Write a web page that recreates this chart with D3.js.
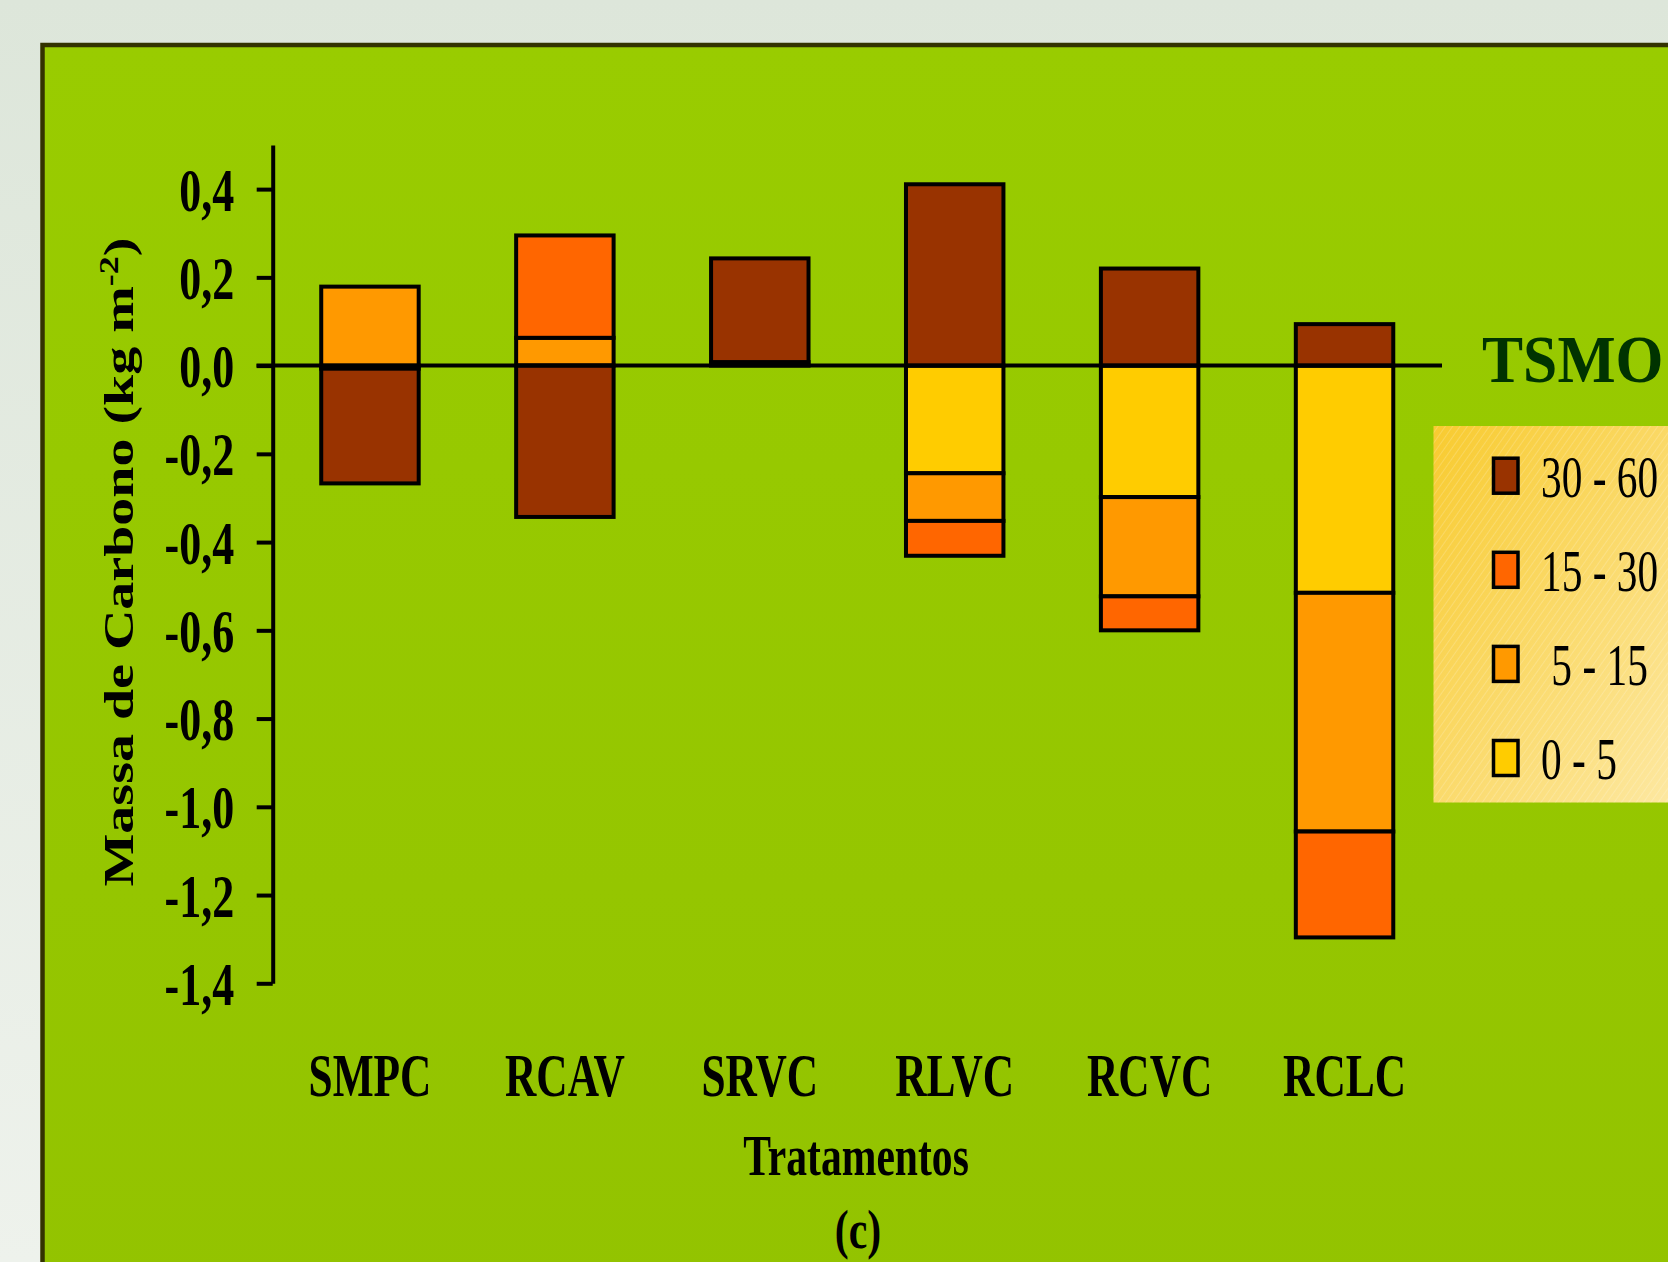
<!DOCTYPE html>
<html>
<head>
<meta charset="utf-8">
<script src="https://cdn.jsdelivr.net/npm/d3@7"></script>
<style>
  html, body { margin: 0; padding: 0; background: #dfe7dd; }
  svg { display: block; }
  text { font-family: "Liberation Serif", "Times New Roman", serif; }
</style>
</head>
<body>
<svg id="chart"></svg>
<script>
// dados (kg m-2)
const categories = ["SMPC", "RCAV", "SRVC", "RLVC", "RCVC", "RCLC"];
const layers = ["0 - 5", "5 - 15", "15 - 30", "30 - 60"];   // ordem de empilhamento a partir do zero
const v0_5   = [-0.007, 0.000, 0.008, -0.244, -0.298, -0.515];
const v5_15  = [ 0.179, 0.063, 0.000, -0.108, -0.225, -0.541];
const v15_30 = [ 0.000, 0.232, 0.000, -0.079, -0.077, -0.240];
const v30_60 = [-0.260, -0.343, 0.235, 0.411, 0.220, 0.094];
const yTicks = [-1.4, -1.2, -1.0, -0.8, -0.6, -0.4, -0.2, 0.0, 0.2, 0.4];
const legendLabels = ["30 - 60", "15 - 30", "\u00a05 - 15", "0 - 5"];
const layerColors = { "0 - 5": "#ffcc00", "5 - 15": "#ff9900", "15 - 30": "#ff6600", "30 - 60": "#993300" };

const width = 1668, height = 1262;
const sx = 0.71;  // o texto original é comprimido na horizontal

const svg = d3.select("#chart").attr("width", width).attr("height", height);
const defs = svg.append("defs");

// fundo da página
const bgGrad = defs.append("linearGradient").attr("id", "bg").attr("x1", 0).attr("y1", 0).attr("x2", 0).attr("y2", 1);
bgGrad.append("stop").attr("offset", "0%").attr("stop-color", "#dde6da");
bgGrad.append("stop").attr("offset", "100%").attr("stop-color", "#eef2ec");
svg.append("rect").attr("width", width).attr("height", height).attr("fill", "url(#bg)");

// painel verde
const panelGrad = defs.append("linearGradient").attr("id", "panel").attr("x1", 0).attr("y1", 0).attr("x2", 0).attr("y2", 1);
panelGrad.append("stop").attr("offset", "0%").attr("stop-color", "#99cc00");
panelGrad.append("stop").attr("offset", "100%").attr("stop-color", "#93c300");
svg.append("rect")
    .attr("x", 42.5).attr("y", 45).attr("width", width).attr("height", height)
    .attr("fill", "url(#panel)").attr("stroke", "#333300").attr("stroke-width", 4.5);

// escalas
const x = d3.scaleBand().domain(categories).range([272.5, 1442]).paddingInner(0.5).paddingOuter(0.25);
const y = d3.scaleLinear().domain([-1.4, 0.5]).range([983.3, 145]);

// empilhamento com valores negativos
const table = categories.map((c, i) => ({
    cat: c, "0 - 5": v0_5[i], "5 - 15": v5_15[i], "15 - 30": v15_30[i], "30 - 60": v30_60[i]
}));
const series = d3.stack().keys(layers).offset(d3.stackOffsetDiverging)(table);

const barG = svg.append("g");
series.forEach(s => {
    barG.selectAll(null)
        .data(s.filter(d => d[1] !== d[0]))
        .enter()
        .append("rect")
        .attr("x", d => x(d.data.cat))
        .attr("width", x.bandwidth())
        .attr("y", d => y(Math.max(d[0], d[1])))
        .attr("height", d => Math.abs(y(d[0]) - y(d[1])))
        .attr("fill", layerColors[s.key])
        .attr("stroke", "#000")
        .attr("stroke-width", 4);
});

// linha do zero
svg.append("line")
    .attr("x1", 256.5).attr("x2", 1442)
    .attr("y1", y(0)).attr("y2", y(0))
    .attr("stroke", "#000").attr("stroke-width", 4);

// eixo y
const yAxis = svg.append("g")
    .attr("transform", "translate(272.7,0)")
    .call(d3.axisLeft(y).tickValues(yTicks).tickSize(16).tickSizeOuter(0)
        .tickFormat(d => d3.format(".1f")(d).replace(".", ",").replace("−", "-")));
yAxis.select(".domain").attr("stroke", "#000").attr("stroke-width", 4);
yAxis.selectAll(".tick line").attr("stroke", "#000").attr("stroke-width", 4);
yAxis.selectAll(".tick text")
    .attr("font-family", "Liberation Serif")
    .attr("font-weight", "bold")
    .attr("font-size", 62)
    .attr("fill", "#000")
    .attr("x", -38.5 / sx)
    .attr("dy", "0.34em")
    .attr("transform", `scale(${sx},1)`);

// rótulos das categorias
svg.append("g").selectAll("text")
    .data(categories)
    .enter()
    .append("text")
    .attr("transform", d => `translate(${x(d) + x.bandwidth() / 2},1095.5) scale(0.70,1)`)
    .attr("text-anchor", "middle")
    .attr("font-weight", "bold")
    .attr("font-size", 62)
    .text(d => d);

// título do eixo x
svg.append("text")
    .attr("transform", "translate(856,1175) scale(0.73,1)")
    .attr("text-anchor", "middle")
    .attr("font-weight", "bold")
    .attr("font-size", 57)
    .text("Tratamentos");

svg.append("text")
    .attr("transform", "translate(858,1248) scale(0.76,1)")
    .attr("text-anchor", "middle")
    .attr("font-weight", "bold")
    .attr("font-size", 55)
    .text("(c)");

// título do eixo y
const yTitle = svg.append("text")
    .attr("transform", "translate(133,562) scale(0.75,1) rotate(-90)")
    .attr("text-anchor", "middle")
    .attr("font-weight", "bold")
    .attr("font-size", 56);
yTitle.append("tspan").text("Massa de Carbono (kg m");
yTitle.append("tspan").attr("dy", -20).attr("font-size", 36).text("-2");
yTitle.append("tspan").attr("dy", 20).text(")");

// legenda
const legGrad = defs.append("linearGradient").attr("id", "leg").attr("x1", 0).attr("y1", 0).attr("x2", 1).attr("y2", 1);
legGrad.append("stop").attr("offset", "0%").attr("stop-color", "#f8cb30");
legGrad.append("stop").attr("offset", "100%").attr("stop-color", "#fde9a6");
const hatch = defs.append("pattern").attr("id", "hatch")
    .attr("width", 6).attr("height", 6).attr("patternUnits", "userSpaceOnUse")
    .attr("patternTransform", "rotate(35)");
hatch.append("line").attr("x1", 0).attr("y1", 0).attr("x2", 0).attr("y2", 6)
    .attr("stroke", "#ffffff").attr("stroke-opacity", 0.3).attr("stroke-width", 1.2);

svg.append("rect").attr("x", 1433.5).attr("y", 426).attr("width", 260).attr("height", 376.5).attr("fill", "url(#leg)");
svg.append("rect").attr("x", 1433.5).attr("y", 426).attr("width", 260).attr("height", 376.5).attr("fill", "url(#hatch)");

const legColors = ["#993300", "#ff6600", "#ff9900", "#ffcc00"];
const legY = d3.scalePoint().domain(legendLabels).range([475.7, 758]);
const leg = svg.append("g").selectAll("g")
    .data(legendLabels)
    .enter()
    .append("g")
    .attr("transform", d => `translate(0,${legY(d)})`);
leg.append("rect")
    .attr("x", 1493.5).attr("y", -17.5).attr("width", 24.5).attr("height", 35)
    .attr("fill", (d, i) => legColors[i])
    .attr("stroke", "#000").attr("stroke-width", 3.5);
leg.append("text")
    .attr("transform", "translate(1541,21) scale(0.69,1)")
    .attr("font-size", 60)
    .attr("fill", "#000")
    .text(d => d);

svg.append("text")
    .attr("transform", "translate(1482,381.5) scale(0.92,1)")
    .attr("font-weight", "bold")
    .attr("font-size", 67)
    .attr("fill", "#003300")
    .text("TSMO");
</script>
</body>
</html>
